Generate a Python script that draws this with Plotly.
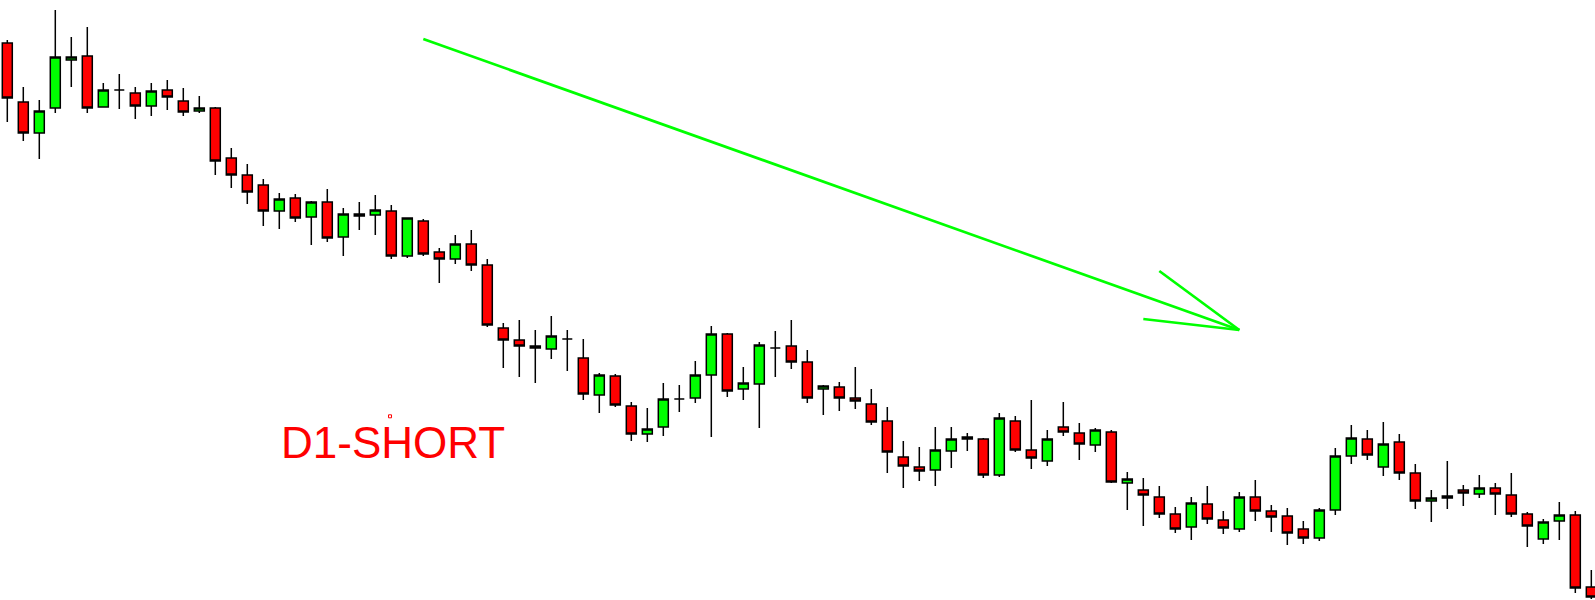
import plotly.graph_objects as go

# Price values (arbitrary price units, higher = up)
open_ = [557, 498, 467, 492, 540, 544, 493, 510, 507, 494, 510, 499, 489, 492, 442, 425, 415, 389, 402, 383,
         398, 363, 384, 385, 389, 344, 379, 348, 341, 356, 335, 272, 260, 254, 251, 261, 242, 205, 224, 194,
         166, 173, 201, 202, 225, 266, 211, 216, 252, 254, 238, 211, 213, 202, 196, 179, 143, 133, 130, 149,
         163, 161, 125, 179, 150, 139, 173, 167, 155, 168, 117, 110, 103, 86, 73, 96, 80, 71, 103, 89,
         84, 71, 62, 90, 144, 161, 133, 158, 127, 99, 104, 110, 106, 112, 105, 86, 61, 79, 85, 13]
high = [560, 513, 500, 590, 563, 573, 517, 526, 513, 517, 520, 512, 504, 493, 452, 436, 421, 407, 406, 399,
        411, 392, 398, 405, 395, 382, 381, 352, 365, 370, 341, 277, 280, 270, 284, 270, 261, 227, 226, 198,
        192, 217, 215, 239, 274, 267, 233, 258, 269, 280, 250, 215, 218, 233, 211, 193, 159, 153, 173, 173,
        167, 162, 187, 184, 200, 170, 198, 177, 172, 170, 128, 122, 114, 93, 103, 114, 89, 108, 120, 95,
        92, 79, 92, 152, 175, 170, 178, 166, 136, 110, 139, 115, 125, 117, 127, 88, 81, 98, 89, 30]
low = [478, 459, 441, 487, 513, 487, 493, 491, 481, 484, 490, 484, 487, 425, 412, 396, 374, 371, 378, 355,
       358, 344, 370, 365, 341, 342, 344, 317, 336, 329, 273, 232, 223, 217, 241, 229, 200, 187, 193, 159,
       158, 164, 188, 197, 163, 203, 200, 172, 223, 231, 197, 185, 189, 191, 175, 127, 112, 119, 114, 132,
       149, 122, 123, 148, 131, 134, 164, 140, 148, 117, 90, 74, 82, 67, 60, 76, 66, 68, 79, 68,
       55, 56, 59, 85, 136, 140, 124, 120, 91, 78, 91, 94, 102, 85, 83, 53, 56, 60, 7, 1]
close = [502, 467, 489, 543, 543, 492, 510, 510, 494, 509, 503, 488, 492, 439, 425, 408, 389, 401, 382, 398,
         362, 386, 386, 390, 344, 382, 346, 341, 356, 335, 275, 260, 254, 252, 264, 261, 206, 225, 195, 166,
         171, 201, 201, 225, 266, 209, 217, 255, 252, 238, 202, 214, 202, 199, 178, 148, 134, 129, 150, 161,
         161, 125, 182, 150, 142, 161, 168, 156, 170, 118, 121, 105, 86, 71, 97, 81, 72, 103, 89, 83,
         67, 62, 90, 144, 162, 145, 156, 127, 99, 102, 102, 107, 112, 106, 86, 74, 78, 85, 12, 3]
bars = list(range(len(open_)))

label_text = "D1-SHORT"
label_pos = (24.08, 158)
# trend arrow: shaft start, tip, and two head ends (bar index, price)
arrow_start = (26, 561)
arrow_tip = (77, 270)
head_a = (72, 329)
head_b = (71, 281)

fig = go.Figure()
fig.add_trace(go.Candlestick(
    x=bars, open=open_, high=high, low=low, close=close,
    increasing=dict(fillcolor="#00FF00", line=dict(color="black", width=1.5)),
    decreasing=dict(fillcolor="#FF0000", line=dict(color="black", width=1.5)),
    whiskerwidth=0, showlegend=False, hoverinfo="skip",
))

# small stray dot near the label
fig.add_trace(go.Scatter(x=[23.92], y=[183.7], mode="markers",
                         marker=dict(symbol="square-open", size=3, color="#FF0000", line=dict(width=1)),
                         showlegend=False, hoverinfo="skip"))

green = "#00FF00"
for (x0, y0) in [arrow_start, head_a, head_b]:
    fig.add_shape(type="line", x0=x0, y0=y0, x1=arrow_tip[0], y1=arrow_tip[1],
                  xref="x", yref="y", line=dict(color=green, width=2.7))

fig.add_annotation(x=label_pos[0], y=label_pos[1], text=label_text, showarrow=False,
                   xref="x", yref="y", xanchor="center", yanchor="middle",
                   font=dict(family="Liberation Sans, Arial, sans-serif", size=44, color="#FF0000"))

fig.update_layout(
    width=1595, height=600,
    margin=dict(l=0, r=0, t=0, b=0),
    paper_bgcolor="white", plot_bgcolor="white",
    boxgap=0.375, boxgroupgap=0,
    xaxis=dict(range=[-0.456, 99.23], visible=False, rangeslider=dict(visible=False), fixedrange=True),
    yaxis=dict(range=[0, 600], visible=False, fixedrange=True),
    showlegend=False,
)

fig.write_html("out.html", config={"displayModeBar": False},
               post_script="document.body.style.margin='0';")
